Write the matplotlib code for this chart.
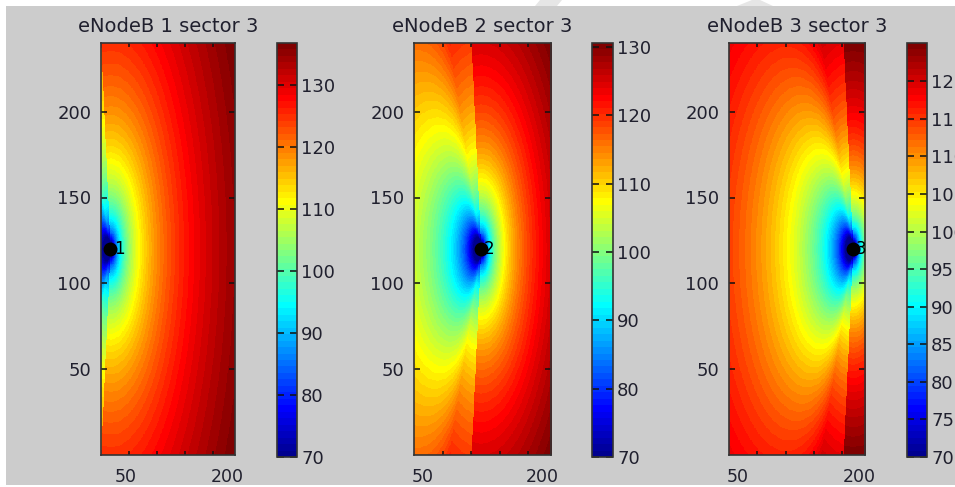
import numpy as np
import matplotlib.pyplot as plt
from matplotlib.colors import ListedColormap
from matplotlib.patches import Rectangle, Polygon

# sites and panel annotations
titles = ['eNodeB 1 sector 3', 'eNodeB 2 sector 3', 'eNodeB 3 sector 3']
enb_ids = ['1', '2', '3']
enb_x = [17, 117, 218]
enb_y = [120, 120, 120]
area = [0, 240]                 # map extent in both directions
ytick_vals = [50, 100, 150, 200]
xtick_vals = [50, 100, 150, 200]
xlabel_pos = [[45, 227], [15, 225], [16, 230]]
xlabel_txt = ['50', '200']
cbar_ticks = [list(range(70, 131, 10)),
              list(range(70, 131, 10)),
              list(range(70, 121, 5))]

# propagation model for sector 3 (boresight west)
pl_const = 28.3
pl_slope = 36.8
mcl = 70.0          # minimum coupling loss
boresight = 180.0
sector_half = 82.0  # deg, edge of the sector's front half-plane
side_cap = 14.0     # max loss inside the sector
back_loss = 20.0    # loss outside the sector


def matlab_jet(m=64):
    n = int(np.ceil(m / 4))
    u = np.concatenate([np.arange(1, n + 1) / n, np.ones(n - 1), np.arange(n, 0, -1) / n])
    g = int(np.ceil(n / 2)) - (m % 4 == 1) + np.arange(1, len(u) + 1)
    r = g + n
    b = g - n
    J = np.zeros((m, 3))
    J[r[r <= m] - 1, 0] = u[r <= m]
    J[g[g <= m] - 1, 1] = u[g <= m]
    J[b[b > 0] - 1, 2] = u[b > 0]
    return ListedColormap(J)


def path_loss(xs, ys, n=480):
    c = np.linspace(area[0], area[1], n)
    X, Y = np.meshgrid(c, c)
    dx, dy = X - xs, Y - ys
    r = np.hypot(dx, dy)
    phi = (np.degrees(np.arctan2(dy, dx)) - boresight + 180) % 360 - 180
    cosp = np.clip(np.cos(np.radians(phi)), 1e-6, None)
    g_front = np.minimum(-pl_slope * np.log10(cosp), side_cap)
    g = np.where(np.abs(phi) < sector_half, g_front, back_loss)
    pl = pl_const + pl_slope * np.log10(np.maximum(r, 1.0)) + g
    return np.maximum(pl, mcl)


W, H = 955, 487
bg = (0.8, 0.8, 0.8)
txt = '#20202e'
plt.rcParams['font.family'] = ['DejaVu Sans']


def box(x0, x1, y0, y1):
    return [x0 / W, 1 - y1 / H, (x1 - x0) / W, (y1 - y0) / H]


fig = plt.figure(figsize=(W / 100, H / 100), dpi=100, facecolor='white')
fig.add_artist(Rectangle((6 / W, 2 / H), 1 - 6 / W, 1 - 8 / H, transform=fig.transFigure,
                         facecolor=bg, edgecolor='none', zorder=-10))
# faint marks in the top margin
for pts in ([(540, 0), (562, 0), (557, 6), (535, 6)], [(737, 6), (752, 0), (760, 0), (773, 6)]):
    fig.add_artist(Polygon([(x / W, 1 - y / H) for x, y in pts], closed=True,
                           transform=fig.transFigure, facecolor='#e6e6e6', edgecolor='none'))

ax_boxes = [(101, 235, 43, 455), (414, 551, 43, 455), (729, 865, 43, 455)]
cb_boxes = [(277, 297, 43, 457), (592, 613, 43, 457), (907, 927, 43, 457)]
cmap = matlab_jet(64)

for i in range(3):
    ax = fig.add_axes(box(*ax_boxes[i]))
    pl = path_loss(enb_x[i], enb_y[i])
    im = ax.imshow(pl, origin='lower', extent=[area[0], area[1], area[0], area[1]],
                   aspect='auto', cmap=cmap, vmin=mcl, vmax=pl.max(), interpolation='nearest')
    ax.plot(enb_x[i], enb_y[i], 'o', color='k', markersize=9)
    ax.text(enb_x[i] + 6, enb_y[i], enb_ids[i], fontsize=12, color='k', va='center', ha='left')
    ax.set_xlim(area)
    ax.set_ylim(area)
    ax.set_title(titles[i], fontsize=14, color=txt, pad=8)

    ax.set_yticks(ytick_vals)
    ax.set_yticklabels([str(v) for v in ytick_vals])
    ax.set_xticks(xtick_vals)
    ax.set_xticklabels([])
    ax.set_xticks(xlabel_pos[i], labels=xlabel_txt, minor=True)
    ax.tick_params(axis='x', which='major', direction='in', length=3, width=1.1,
                   top=True, bottom=True, color='#111111')
    ax.tick_params(axis='x', which='minor', length=0, pad=9, labelsize=12.5, labelcolor=txt)
    ax.tick_params(axis='y', which='major', direction='in', length=4.5, width=1.1,
                   left=True, right=True, pad=7, labelsize=13, labelcolor=txt, color='#111111')
    for s in ax.spines.values():
        s.set_color('#333333')
        s.set_linewidth(1.2)

    cax = fig.add_axes(box(*cb_boxes[i]))
    cb = fig.colorbar(im, cax=cax)
    cb.set_ticks(cbar_ticks[i])
    cb.outline.set_edgecolor('#333333')
    cb.outline.set_linewidth(1.2)
    cax.tick_params(axis='y', direction='in', length=5, width=1.1, left=True, right=True,
                    pad=3, labelsize=13, labelcolor=txt, color='#111111')

fig.savefig('out.png', dpi=100, facecolor='white')
